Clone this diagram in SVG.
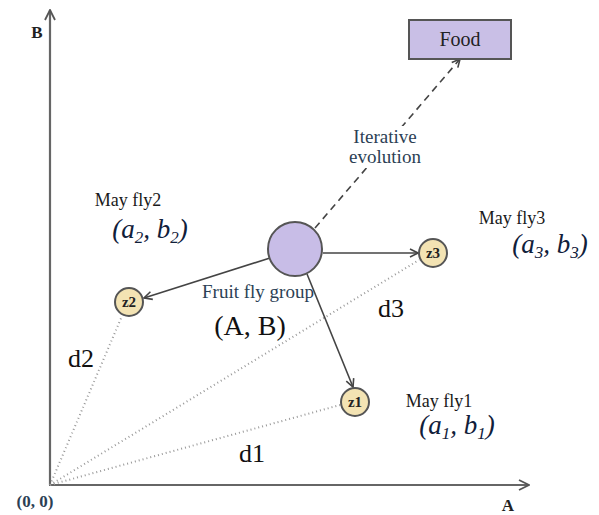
<svg xmlns="http://www.w3.org/2000/svg" width="599" height="515" viewBox="0 0 599 515">
<defs>
<marker id="open" viewBox="0 0 10 10" refX="9" refY="5" markerWidth="10" markerHeight="10" markerUnits="userSpaceOnUse" orient="auto">
<path d="M1,1 L9,5 L1,9" fill="none" stroke="#444" stroke-width="1.6"/>
</marker>
<marker id="axis" viewBox="0 0 12 12" refX="11" refY="6" markerWidth="12" markerHeight="12" markerUnits="userSpaceOnUse" orient="auto">
<path d="M1,1 L11,6 L1,11" fill="none" stroke="#555" stroke-width="1.8"/>
</marker>
</defs>
<style>
.serif{font-family:"Liberation Serif","DejaVu Serif",serif}
.math{font-family:"Liberation Serif","DejaVu Serif",serif;font-style:italic;font-size:27px;fill:#10203a}
.lbl{font-size:18px;fill:#1a1a1a}
.blue{fill:#2c3f55}
.d{font-size:26px;fill:#111}
.node{stroke:#555;stroke-width:2}
.small{fill:#f3e3b3}
.edge{stroke:#444;stroke-width:1.6;fill:none}
.dot{stroke:#999;stroke-width:2;stroke-dasharray:1 3;fill:none}
.zl{font-size:15px;fill:#222;font-weight:bold}
</style>
<rect width="599" height="515" fill="#fff"/>
<g id="axes">
<line x1="50" y1="485" x2="50" y2="10" stroke="#666" stroke-width="2.2" marker-end="url(#axis)"/>
<line x1="49" y1="485" x2="529" y2="485" stroke="#666" stroke-width="2.2" marker-end="url(#axis)"/>
<text class="serif" x="37" y="38" font-size="17" font-weight="bold" text-anchor="middle" fill="#222">B</text>
<text class="serif" x="508" y="511" font-size="17" font-weight="bold" text-anchor="middle" fill="#222">A</text>
<text class="serif blue" x="35" y="507" font-size="17" font-weight="bold" text-anchor="middle">(0, 0)</text>
</g>
<g id="connectors">
<line class="dot" x1="50" y1="485" x2="122" y2="316"/>
<line class="dot" x1="50" y1="485" x2="419" y2="260"/>
<line class="dot" x1="50" y1="485" x2="340" y2="405"/>
<line class="edge" x1="315" y1="228" x2="460" y2="59" stroke-dasharray="7 5" marker-end="url(#open)"/>
<line class="edge" x1="270" y1="258" x2="144" y2="298" marker-end="url(#open)"/>
<line class="edge" x1="323" y1="253" x2="418" y2="253" marker-end="url(#open)"/>
<line class="edge" x1="307" y1="274" x2="353" y2="387" marker-end="url(#open)"/>
<rect x="349" y="126" width="72" height="42" fill="#fff"/>
<text class="serif blue" x="385" y="143" font-size="19" text-anchor="middle">Iterative</text>
<text class="serif blue" x="385" y="163" font-size="19" text-anchor="middle">evolution</text>
<text class="serif d" x="391" y="317" text-anchor="middle">d3</text>
<text class="serif d" x="81" y="367" text-anchor="middle">d2</text>
<text class="serif d" x="252" y="462" text-anchor="middle">d1</text>
</g>
<g id="food">
<rect x="409" y="20" width="102" height="39" fill="#c9bfe6" stroke="#555" stroke-width="2"/>
<text class="serif" x="460" y="46" font-size="20" text-anchor="middle" fill="#222">Food</text>
</g>
<g id="group">
<circle class="node" cx="295" cy="249" r="27" fill="#c8bde7"/>
<text class="serif blue" x="258" y="298" font-size="19" text-anchor="middle">Fruit fly group</text>
<text class="serif" x="250" y="335" font-size="28" text-anchor="middle" fill="#111">(A, B)</text>
</g>
<g id="z2">
<circle class="node small" cx="129" cy="302" r="14"/>
<text class="serif zl" x="129" y="307" text-anchor="middle">z2</text>
<text class="serif lbl" x="128" y="206" text-anchor="middle">May fly2</text>
<text class="math" x="150" y="238" text-anchor="middle">(a<tspan font-size="17" dy="5">2</tspan><tspan dy="-5">, b</tspan><tspan font-size="17" dy="5">2</tspan><tspan dy="-5">)</tspan></text>
</g>
<g id="z3">
<circle class="node small" cx="433" cy="253" r="14"/>
<text class="serif zl" x="433" y="258" text-anchor="middle">z3</text>
<text class="serif lbl" x="512" y="224" text-anchor="middle">May fly3</text>
<text class="math" x="550" y="253" text-anchor="middle">(a<tspan font-size="17" dy="5">3</tspan><tspan dy="-5">, b</tspan><tspan font-size="17" dy="5">3</tspan><tspan dy="-5">)</tspan></text>
</g>
<g id="z1">
<circle class="node small" cx="355" cy="402" r="14"/>
<text class="serif zl" x="355" y="407" text-anchor="middle">z1</text>
<text class="serif lbl" x="439" y="407" text-anchor="middle">May fly1</text>
<text class="math" x="457" y="434" text-anchor="middle">(a<tspan font-size="17" dy="5">1</tspan><tspan dy="-5">, b</tspan><tspan font-size="17" dy="5">1</tspan><tspan dy="-5">)</tspan></text>
</g>
</svg>
